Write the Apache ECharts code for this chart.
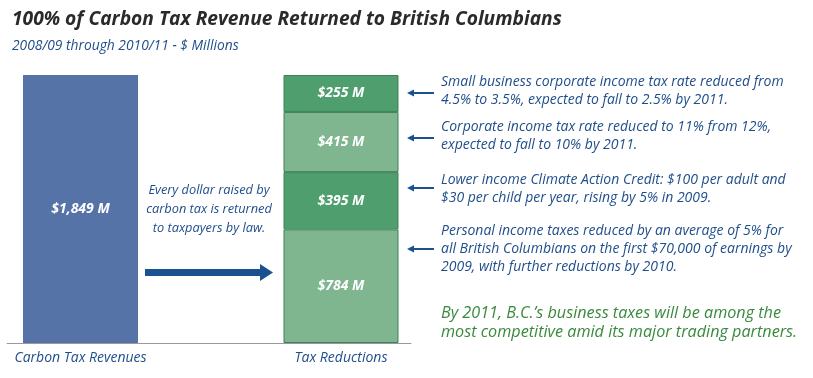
<!DOCTYPE html>
<html><head><meta charset="utf-8">
<script src="https://cdn.jsdelivr.net/npm/echarts@6/dist/echarts.min.js"></script>
<style>html,body{margin:0;padding:0;background:#fff}#c{width:813px;height:378px}</style>
</head><body><div id="c"></div>
<script>
const categories = ['Carbon Tax Revenues', 'Tax Reductions'];
const revenue = [1849, '-'];
const personalIncome = ['-', 784];
const climateCredit = ['-', 395];
const corporateIncome = ['-', 415];
const smallBusiness = ['-', 255];
const revenueTotal = 1849;

const FONT = '"Open Sans"';
const BLUE_TXT = '#1f4e8c';
const ARROW = '#1b5191';
const DARK_G = '#4f9e6d';
const LIGHT_G = '#7fb58f';
const EDGE_G = '#3f8258';

const chart = echarts.init(document.getElementById('c'));

function seg(name, data, color) {
  return {
    name, type: 'bar', stack: 'all', data, barWidth: 115,
    xAxisIndex: 0, yAxisIndex: 0,
    itemStyle: { color, borderColor: EDGE_G, borderWidth: 1 },
    label: { show: true, position: 'inside', color: '#fff', fontFamily: FONT,
      fontStyle: 'italic', fontWeight: 'bold', fontSize: 14,
      formatter: p => '$' + p.value.toLocaleString('en-US') + ' M' }
  };
}

function annot(lines, y) {
  return {
    type: 'text', x: 441, y: y,
    style: { text: lines.join('\n'), fill: BLUE_TXT, font: 'italic 14px ' + FONT, lineHeight: 18 }
  };
}
function smallArrow(y) {
  return [
    { type: 'line', shape: { x1: 413, y1: y, x2: 434, y2: y }, style: { stroke: ARROW, lineWidth: 2 } },
    { type: 'polygon', shape: { points: [[407, y], [414, y - 3.5], [414, y + 3.5]] }, style: { fill: ARROW } }
  ];
}

chart.setOption({
  animation: false,
  title: [
    { text: '100% of Carbon Tax Revenue Returned to British Columbians', left: 7, top: 5,
      textStyle: { fontFamily: FONT, fontStyle: 'italic', fontWeight: 'bold', fontSize: 19.2, color: '#2a2a2a' } },
    { text: '2008/09 through 2010/11 - $ Millions', left: 7, top: 34,
      textStyle: { fontFamily: FONT, fontStyle: 'italic', fontWeight: 'normal', fontSize: 13.8, color: BLUE_TXT } }
  ],
  grid: [
    { left: -49.75, width: 521, top: 75, bottom: 35, outerBoundsMode: 'none', containLabel: false },
    { left: 7, right: 402, top: 75, bottom: 35, outerBoundsMode: 'none' }
  ],
  xAxis: [
    { type: 'category', gridIndex: 0, data: categories,
      axisLine: { show: false }, axisTick: { show: false },
      axisLabel: { fontFamily: FONT, fontStyle: 'italic', fontSize: 14, color: BLUE_TXT, margin: 8 } },
    { type: 'value', gridIndex: 1, min: 0, max: 1, axisLabel: { show: false }, axisTick: { show: false },
      splitLine: { show: false }, axisLine: { show: true, lineStyle: { color: '#999', width: 1 } } }
  ],
  yAxis: [
    { type: 'value', gridIndex: 0, min: 0, max: revenueTotal, show: false },
    { type: 'value', gridIndex: 1, min: 0, max: 1, show: false }
  ],
  series: [
    Object.assign(seg('Carbon Tax Revenues', revenue, '#5673a8'), { itemStyle: { color: '#5673a8' } }),
    seg('Personal income taxes', personalIncome, LIGHT_G),
    seg('Climate Action Credit', climateCredit, DARK_G),
    seg('Corporate income tax', corporateIncome, LIGHT_G),
    seg('Small business tax', smallBusiness, DARK_G)
  ],
  graphic: [
    { type: 'text', x: 209, y: 181,
      style: { text: 'Every dollar raised by\ncarbon tax is returned\nto taxpayers by law.', align: 'center',
        fill: BLUE_TXT, font: 'italic 12.8px ' + FONT, lineHeight: 19 } },
    { type: 'rect', shape: { x: 145, y: 269, width: 116, height: 7 }, style: { fill: ARROW } },
    { type: 'polygon', shape: { points: [[260, 264], [273, 272.5], [260, 281]] }, style: { fill: ARROW } },
    ...smallArrow(93), ...smallArrow(138), ...smallArrow(188), ...smallArrow(249),
    annot(['Small business corporate income tax rate reduced from', '4.5% to 3.5%, expected to fall to 2.5% by 2011.'], 73),
    annot(['Corporate income tax rate reduced to 11% from 12%,', 'expected to fall to 10% by 2011.'], 118),
    annot(['Lower income Climate Action Credit: $100 per adult and', '$30 per child per year, rising by 5% in 2009.'], 171),
    annot(['Personal income taxes reduced by an average of 5% for', 'all British Columbians on the first $70,000 of earnings by', '2009, with further reductions by 2010.'], 222),
    { type: 'text', x: 441, y: 304,
      style: { text: 'By 2011, B.C.\u2019s business taxes will be among the\nmost competitive amid its major trading partners.',
        fill: '#3a8a3e', font: 'italic 16.2px ' + FONT, lineHeight: 19 } }
  ]
});
</script></body></html>
